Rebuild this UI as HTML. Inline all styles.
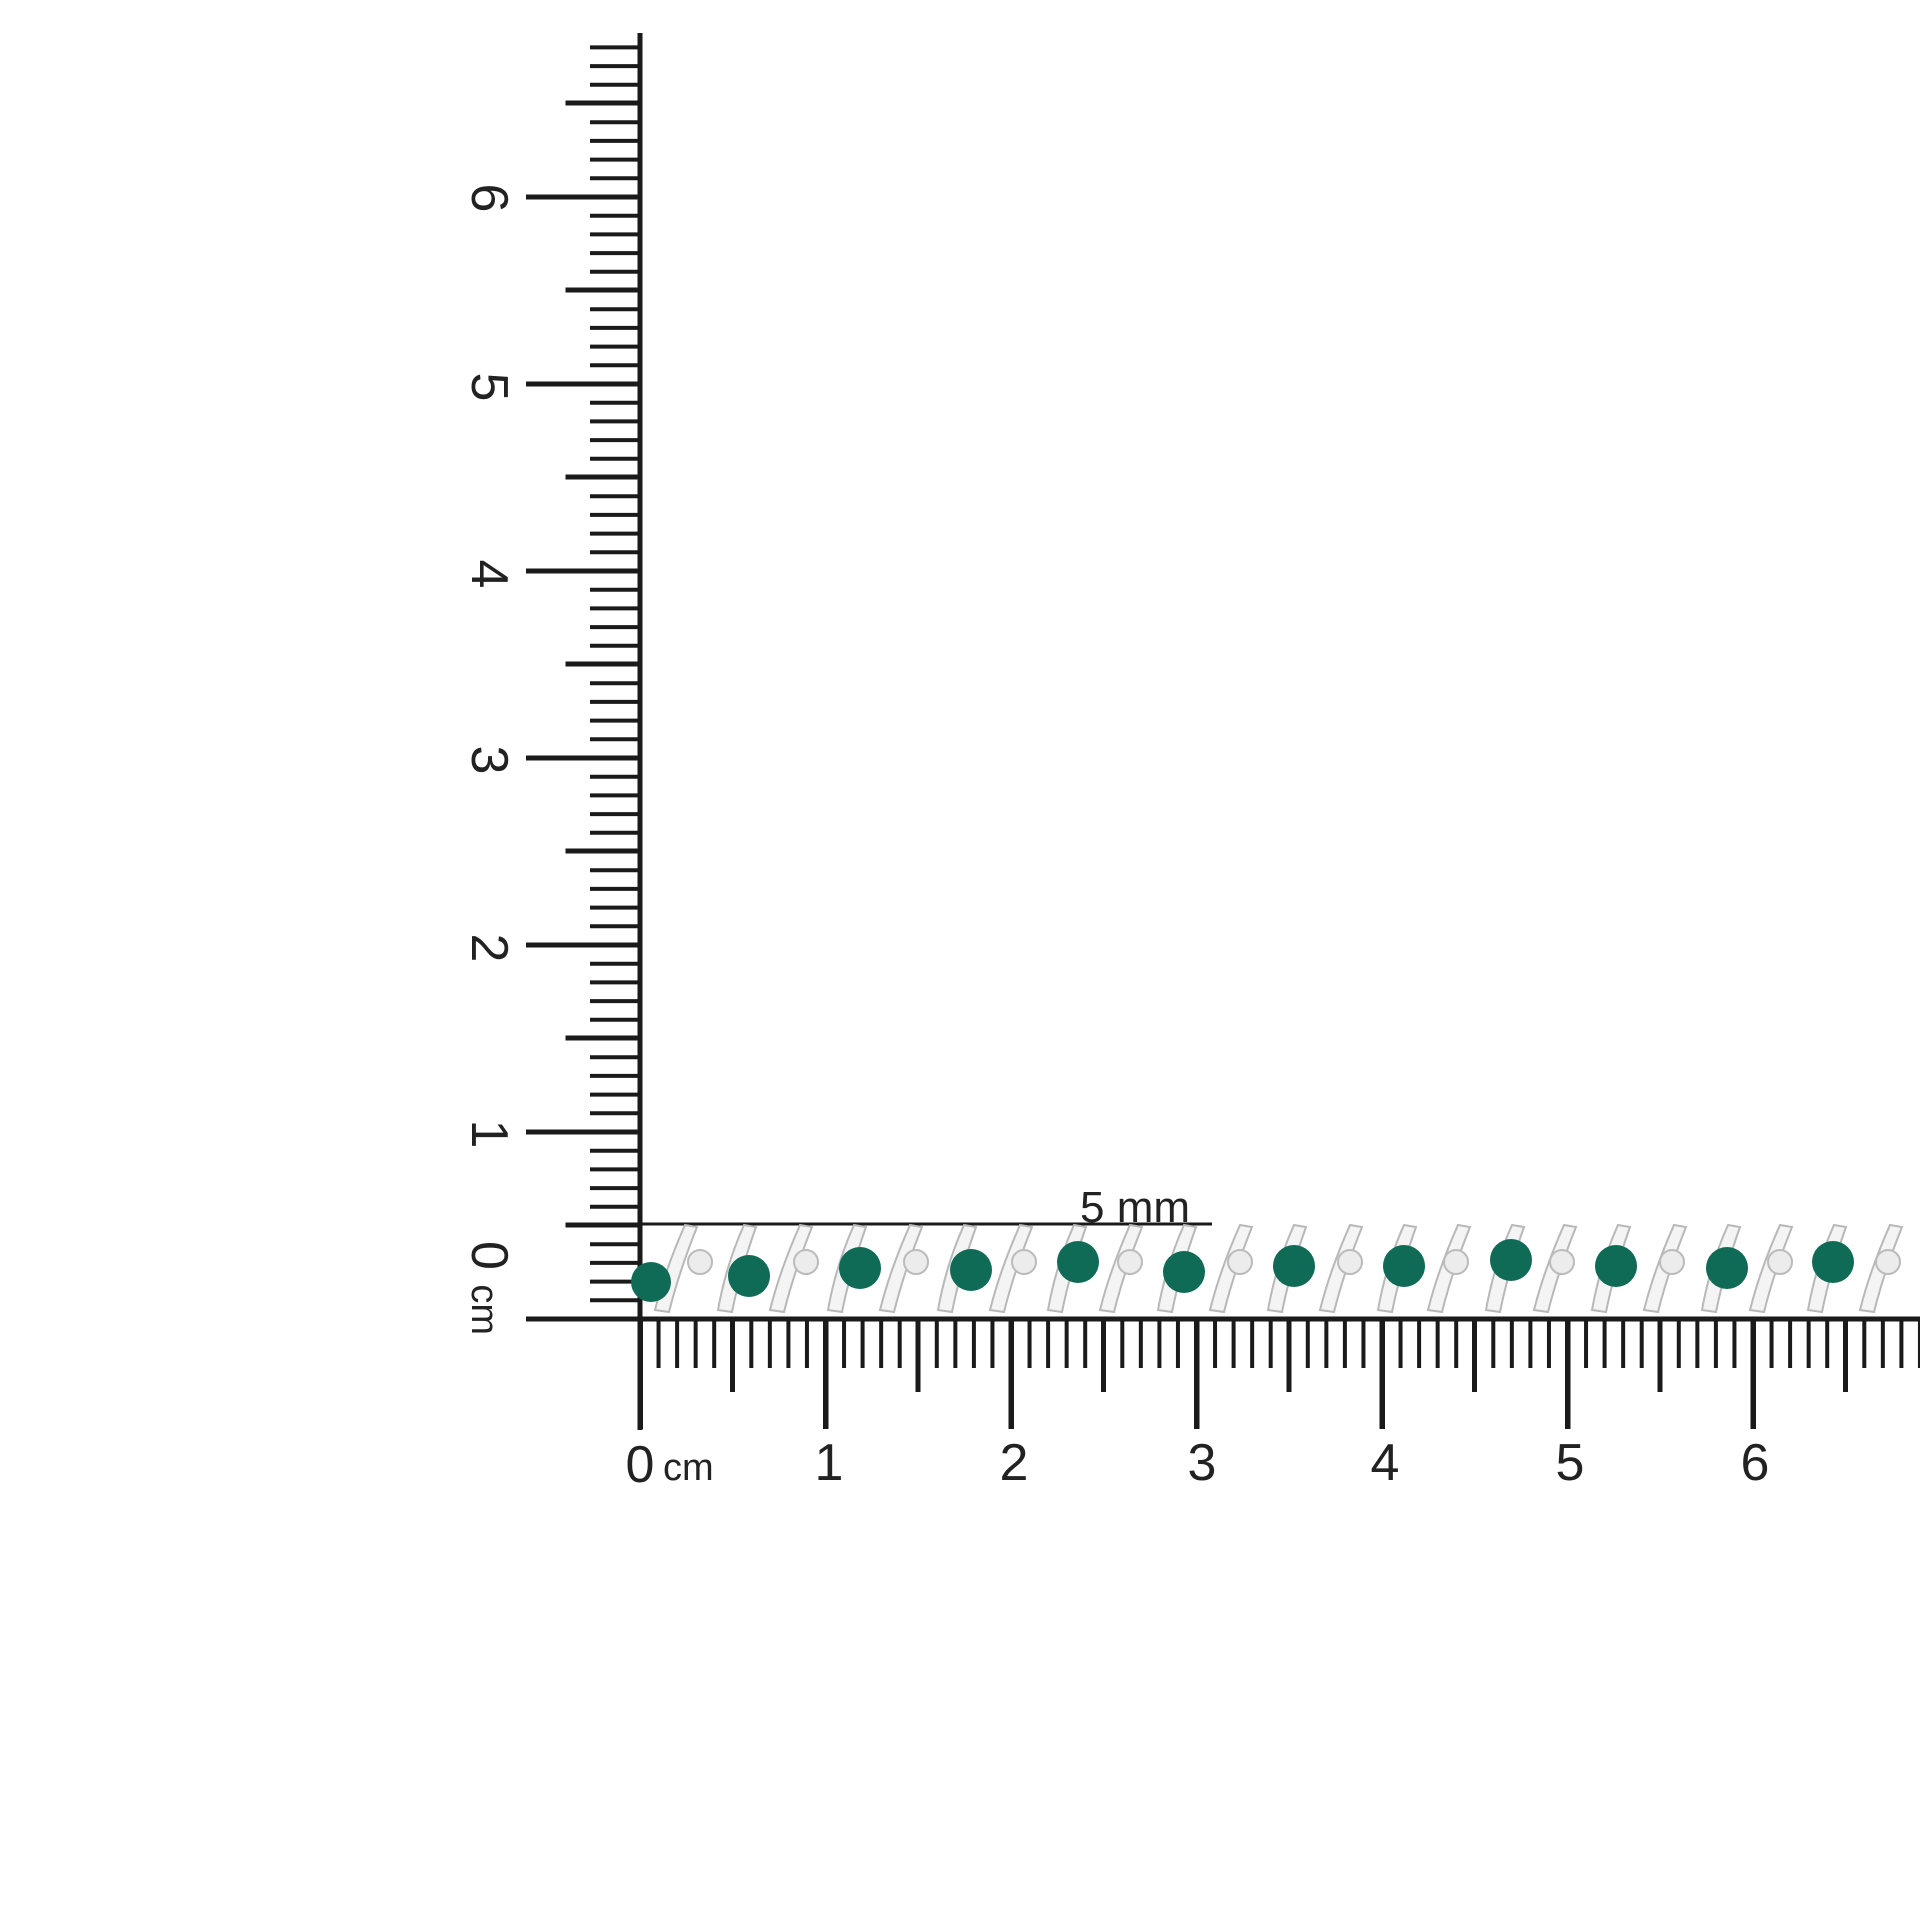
<!DOCTYPE html>
<html><head><meta charset="utf-8"><style>
html,body{margin:0;padding:0;background:#fff}
svg{display:block}
text{font-family:"Liberation Sans",sans-serif;fill:#222}
</style></head><body>
<svg width="1920" height="1920" viewBox="0 0 1920 1920" xmlns="http://www.w3.org/2000/svg">
<g stroke="#1a1a1a" fill="none">
<line x1="640" y1="33" x2="640" y2="1430" stroke-width="5"/>
<line x1="527" y1="1319" x2="1920" y2="1319" stroke-width="5"/>
<line x1="638" y1="1343.5" x2="1920" y2="1343.5" stroke-width="49" stroke-dasharray="4 14.55"/>
<line x1="730" y1="1355.5" x2="1920" y2="1355.5" stroke-width="73" stroke-dasharray="5 180.5"/>
<line x1="637.5" y1="1374" x2="1920" y2="1374" stroke-width="110" stroke-dasharray="5.5 180"/>
<line x1="615" y1="1321" x2="615" y2="33" stroke-width="50" stroke-dasharray="4 14.7"/>
<line x1="603" y1="1227.5" x2="603" y2="33" stroke-width="75" stroke-dasharray="5 182"/>
<line x1="583" y1="1321.5" x2="583" y2="33" stroke-width="114" stroke-dasharray="5 182"/>
<line x1="640" y1="1224" x2="1212" y2="1224" stroke-width="3"/>
</g>
<text x="1080" y="1222" font-size="44">5 mm</text>
<g font-size="52" text-anchor="middle">
<text x="640" y="1482">0</text>
<text x="829" y="1480">1</text>
<text x="1014" y="1480">2</text>
<text x="1202" y="1480">3</text>
<text x="1385" y="1480">4</text>
<text x="1570" y="1480">5</text>
<text x="1755" y="1480">6</text>
</g>
<text x="663" y="1480" font-size="38">cm</text>
<g font-size="52" text-anchor="middle">
<text transform="translate(472,1288) rotate(90)">0 <tspan font-size="38">cm</tspan></text>
<text transform="translate(472,1134) rotate(90)">1</text>
<text transform="translate(472,948) rotate(90)">2</text>
<text transform="translate(472,760) rotate(90)">3</text>
<text transform="translate(472,574) rotate(90)">4</text>
<text transform="translate(472,387) rotate(90)">5</text>
<text transform="translate(472,198) rotate(90)">6</text>
</g>
<g>
<g stroke="#b8b8b8" stroke-width="2" fill="#f4f4f4">
<path d="M655 1310 q10 -40 30 -85 l12 2 q-18 45 -28 85 z"/>
<path d="M718 1310 q8 -45 26 -85 l12 2 q-16 45 -24 85 z"/>
<path d="M770 1310 q10 -40 30 -85 l12 2 q-18 45 -28 85 z"/>
<path d="M828 1310 q8 -45 26 -85 l12 2 q-16 45 -24 85 z"/>
<path d="M880 1310 q10 -40 30 -85 l12 2 q-18 45 -28 85 z"/>
<path d="M938 1310 q8 -45 26 -85 l12 2 q-16 45 -24 85 z"/>
<path d="M990 1310 q10 -40 30 -85 l12 2 q-18 45 -28 85 z"/>
<path d="M1048 1310 q8 -45 26 -85 l12 2 q-16 45 -24 85 z"/>
<path d="M1100 1310 q10 -40 30 -85 l12 2 q-18 45 -28 85 z"/>
<path d="M1158 1310 q8 -45 26 -85 l12 2 q-16 45 -24 85 z"/>
<path d="M1210 1310 q10 -40 30 -85 l12 2 q-18 45 -28 85 z"/>
<path d="M1268 1310 q8 -45 26 -85 l12 2 q-16 45 -24 85 z"/>
<path d="M1320 1310 q10 -40 30 -85 l12 2 q-18 45 -28 85 z"/>
<path d="M1378 1310 q8 -45 26 -85 l12 2 q-16 45 -24 85 z"/>
<path d="M1428 1310 q10 -40 30 -85 l12 2 q-18 45 -28 85 z"/>
<path d="M1486 1310 q8 -45 26 -85 l12 2 q-16 45 -24 85 z"/>
<path d="M1534 1310 q10 -40 30 -85 l12 2 q-18 45 -28 85 z"/>
<path d="M1592 1310 q8 -45 26 -85 l12 2 q-16 45 -24 85 z"/>
<path d="M1644 1310 q10 -40 30 -85 l12 2 q-18 45 -28 85 z"/>
<path d="M1702 1310 q8 -45 26 -85 l12 2 q-16 45 -24 85 z"/>
<path d="M1750 1310 q10 -40 30 -85 l12 2 q-18 45 -28 85 z"/>
<path d="M1808 1310 q8 -45 26 -85 l12 2 q-16 45 -24 85 z"/>
<path d="M1860 1310 q10 -40 30 -85 l12 2 q-18 45 -28 85 z"/>
</g>
<g fill="#ececec" stroke="#bbb" stroke-width="2">
<circle cx="700" cy="1262" r="12"/><circle cx="806" cy="1262" r="12"/><circle cx="916" cy="1262" r="12"/>
<circle cx="1024" cy="1262" r="12"/><circle cx="1130" cy="1262" r="12"/><circle cx="1240" cy="1262" r="12"/>
<circle cx="1350" cy="1262" r="12"/><circle cx="1456" cy="1262" r="12"/><circle cx="1562" cy="1262" r="12"/>
<circle cx="1672" cy="1262" r="12"/><circle cx="1780" cy="1262" r="12"/><circle cx="1888" cy="1262" r="12"/>
</g>
<g fill="#0f6b55">
<circle cx="651" cy="1282" r="20"/><circle cx="749" cy="1276" r="21"/><circle cx="860" cy="1268" r="21"/>
<circle cx="971" cy="1270" r="21"/><circle cx="1078" cy="1262" r="21"/><circle cx="1184" cy="1272" r="21"/>
<circle cx="1294" cy="1266" r="21"/><circle cx="1404" cy="1266" r="21"/><circle cx="1511" cy="1260" r="21"/>
<circle cx="1616" cy="1266" r="21"/><circle cx="1727" cy="1268" r="21"/><circle cx="1833" cy="1262" r="21"/>
</g>
</g>
</svg>
</body></html>
